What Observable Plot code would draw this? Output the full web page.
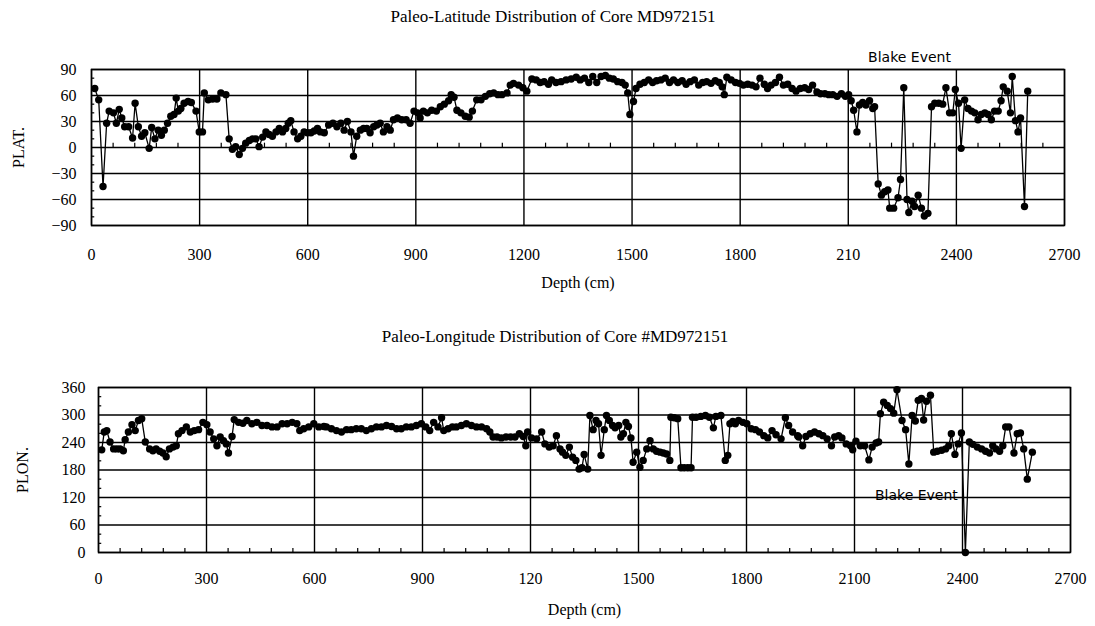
<!DOCTYPE html>
<html><head><meta charset="utf-8">
<script src="https://cdn.jsdelivr.net/npm/d3@7"></script>
<script src="https://cdn.jsdelivr.net/npm/@observablehq/plot@0.6"></script>
<style>
body{margin:0;background:#fff;}
#wrap{position:relative;width:1095px;height:626px;overflow:hidden;font-family:"Liberation Serif",serif;color:#000;background:#fff}
.title{position:absolute;left:253px;width:600px;text-align:center;font-size:17px;line-height:20px;z-index:2}
.chart{position:absolute;left:0;z-index:1}
</style></head><body>
<div id="wrap">
<div id="chart1" class="chart" style="top:0px"></div>
<div id="chart2" class="chart" style="top:300px"></div>
<div class="title" style="top:7px">Paleo-Latitude Distribution of Core MD972151</div>
<div class="title" style="top:327px;left:255px">Paleo-Longitude Distribution of Core #MD972151</div>
</div>
<script>
// ---------- data ----------
const depthTicks = [0, 300, 600, 900, 1200, 1500, 1800, 2100, 2400, 2700];
const latXTickLabels = ["0", "300", "600", "900", "1200", "1500", "1800", "210", "2400", "2700"];
const lonXTickLabels = ["0", "300", "600", "900", "120", "1500", "1800", "2100", "2400", "2700"];
const latYTicks = [-90, -60, -30, 0, 30, 60, 90];
const lonYTicks = [0, 60, 120, 180, 240, 300, 360];
const latMinorY = [-80, -70, -50, -40, -20, -10, 10, 20, 40, 50, 70, 80];
const lonMinorY = [20, 40, 80, 100, 140, 160, 200, 220, 260, 280, 320, 340];
const minorDepth = [60, 120, 180, 240, 360, 420, 480, 540, 660, 720, 780, 840, 960, 1020, 1080, 1140,
  1260, 1320, 1380, 1440, 1560, 1620, 1680, 1740, 1860, 1920, 1980, 2040, 2160, 2220, 2280, 2340,
  2460, 2520, 2580, 2640];

const latDepth = [9, 20, 32, 42, 49, 61, 69, 77, 84, 92, 103, 114, 121, 130, 139, 148, 160, 167, 176, 185,
  194, 202, 211, 220, 229, 235, 241, 248, 257, 268, 277, 290, 299, 308, 313, 324, 336, 348, 359, 373,
  382, 391, 400, 410, 419, 428, 438, 447, 456, 465, 475, 484, 493, 502, 512, 521, 530, 539, 546, 553,
  562, 572, 581, 590, 599, 609, 618, 627,
  635, 646, 658, 670, 681, 692, 701, 710, 720, 727, 736, 746, 755, 764, 773, 783, 792, 801, 810, 820,
  829, 838, 849, 861, 873, 884, 895, 905, 912, 921, 932, 944, 957, 968, 979, 991, 998, 1006, 1014, 1025,
  1037, 1048, 1057, 1069, 1081, 1093, 1105, 1116, 1128, 1139, 1153, 1162, 1171, 1185, 1197, 1208, 1222,
  1234, 1245, 1256, 1268, 1277,
  1289, 1303, 1317, 1331, 1345, 1356, 1368, 1380, 1391, 1402, 1414, 1426, 1437, 1448, 1460, 1472, 1481,
  1488, 1494, 1504, 1511, 1522, 1534, 1546, 1557, 1568, 1580, 1592, 1604, 1615, 1627, 1639, 1650, 1661,
  1673, 1685, 1696, 1707, 1719, 1731, 1742, 1750, 1756, 1763, 1775, 1787, 1798, 1809, 1821, 1833, 1844,
  1855, 1867, 1876, 1886, 1898, 1909, 1920, 1932,
  1944, 1955, 1967, 1979, 1990, 2001, 2013, 2023, 2035, 2046, 2057, 2069, 2081, 2092, 2101, 2108, 2115,
  2124, 2131, 2140, 2149, 2159, 2168, 2173, 2183, 2192, 2201, 2210, 2215, 2226, 2238, 2245, 2254, 2263,
  2268, 2277, 2284, 2294, 2303, 2311, 2321, 2331, 2340, 2351, 2362, 2371, 2381, 2390, 2397, 2406, 2413,
  2423, 2432, 2442, 2451, 2460, 2469, 2479, 2488, 2497, 2506, 2516, 2524, 2530, 2541, 2550, 2555, 2564,
  2571, 2578, 2589, 2598];
const latValue = [68, 55, -45, 28, 42, 40, 28, 44, 34, 24, 24, 11, 51, 24, 13, 17, -1, 23, 10, 20,
  14, 20, 28, 36, 38, 57, 42, 45, 51, 53, 52, 42, 18, 18, 63, 55, 56, 56, 63, 61,
  10, -2, 1, -8, -1, 5, 8, 10, 10, 1, 12, 18, 15, 13, 18, 22, 18, 22, 28, 31,
  18, 10, 13, 18, 17, 17, 19, 22,
  18, 17, 26, 28, 24, 28, 20, 30, 18, -10, 13, 20, 22, 22, 17, 24, 26, 28, 18, 24,
  20, 32, 34, 32, 32, 28, 42, 40, 34, 42, 40, 43, 42, 47, 50, 54, 61, 58, 43, 40,
  36, 35, 42, 55, 55, 59, 62, 63, 61, 61, 63, 72, 74, 72, 69, 65, 79,
  78, 75, 76, 73, 78,
  75, 76, 78, 79, 81, 78, 80, 75, 82, 75, 82, 83, 80, 79, 76, 75, 72,
  63, 38, 53, 68, 73, 75, 78, 75, 77, 78, 80, 75, 78, 75, 77, 73, 76,
  78, 72, 75, 76, 74, 77, 75, 70, 61, 81, 78, 75, 74, 72, 73, 72, 70,
  80, 73, 68, 72, 75, 81, 72, 73,
  68, 65, 68, 69, 67, 72, 64, 62, 62, 61, 61, 59, 62, 59, 61, 54, 43,
  18, 49, 52, 49, 54, 45, 47, -42, -55, -51, -49, -70, -70, -58, -37, 69, -60,
  -75, -62, -68, -55, -70, -79, -76, 47, 51, 51, 50, 69, 40, 40, 67, 51, -1,
  55, 45, 42, 40, 32, 38, 40, 38, 32, 42, 42, 54, 70, 65, 40, 82, 31,
  18, 34, -68, 65];

const lonDepth = [9, 16, 23, 32, 42, 51, 60, 69, 74, 83, 93, 102, 111, 120, 130, 142, 151, 160, 170, 179,
  188, 197, 207, 216, 222, 232, 244, 255, 266, 278, 290, 301, 310, 320, 329, 338, 347, 355, 361, 371,
  377, 389, 401, 412, 426, 440, 454, 468, 482, 496, 510, 524, 538, 551, 559, 570, 584, 598, 612, 626,
  633, 647, 661, 675, 689, 702, 716, 730, 744, 758, 772, 786, 800, 814, 828, 841, 855, 869, 883, 897,
  909, 920, 931, 943, 953, 959, 971, 983, 994, 1008, 1022, 1036, 1050, 1064, 1078, 1087, 1096, 1107,
  1119, 1132, 1145, 1157, 1169, 1180, 1187, 1192, 1203, 1217, 1231, 1240, 1252, 1263, 1272, 1282,
  1289, 1298, 1308, 1317, 1326, 1335, 1343, 1349, 1359, 1365, 1374, 1382, 1389, 1396, 1405, 1411, 1419,
  1428, 1435, 1445, 1451, 1458, 1465, 1472, 1479, 1485, 1495, 1504, 1513, 1523, 1532, 1541, 1550, 1560,
  1569, 1578, 1587, 1590, 1599, 1609, 1618, 1627, 1637, 1646, 1650, 1660, 1673, 1686, 1697, 1708, 1715,
  1729, 1741, 1748, 1754, 1762, 1769, 1778, 1790, 1801, 1813, 1825, 1836, 1848, 1859, 1871, 1882, 1896,
  1908, 1917, 1928, 1942,
  1945, 1956, 1965, 1977, 1989, 2001, 2012, 2024, 2036, 2045, 2056, 2065, 2077, 2089, 2095, 2104, 2116,
  2128, 2140, 2149, 2160, 2167, 2172, 2181, 2191, 2200, 2209, 2218, 2232, 2242, 2251, 2260, 2269, 2277,
  2286, 2292, 2300, 2311, 2320, 2330, 2342, 2353, 2362, 2369, 2379, 2388, 2397, 2408, 2419, 2429, 2441,
  2453, 2464, 2475, 2484, 2493, 2503, 2512, 2520, 2529, 2543, 2552, 2561, 2570, 2580, 2594];
const lonValue = [224, 263, 266, 241, 226, 226, 226, 222, 246, 263, 279, 266, 288, 292, 241, 226, 222, 226, 221, 217,
  209, 226, 230, 233, 259, 266, 274, 263, 266, 268, 284, 279, 263, 248, 233, 252, 244, 237, 217, 253,
  290, 284, 282, 288, 281, 284, 277, 277, 274, 274, 281, 281, 284, 281, 266, 270, 274, 281, 274, 275,
  274, 270, 266, 263, 268, 268, 270, 270, 266, 270, 274, 274, 277, 275, 270, 270, 274, 274, 277, 281,
  274, 266, 284, 274, 294, 266, 270, 274, 274, 277, 281, 277, 274, 274, 270, 263, 252, 252,
  250, 252, 252, 252, 259, 253, 233, 263, 250, 248, 263, 237, 230, 233, 255, 226,
  219, 212, 230, 208, 201, 182, 185, 214, 182, 299, 268, 288, 281, 212, 268, 299, 288,
  277, 272, 277, 252, 259, 284, 275, 250, 197, 219, 186, 201, 226, 244, 226, 221, 219,
  217, 215, 201, 295, 294, 292, 185, 185, 185, 185, 295, 295, 297, 299, 295, 272, 297,
  299, 201, 212, 281, 286, 281, 288, 284, 281, 270, 268, 263, 255, 250, 266, 257, 248,
  294, 277, 263, 255,
  252, 233, 253, 259, 263, 259, 255, 248, 233, 252, 255, 250, 237, 233, 224, 243, 233,
  233, 202, 230, 239, 241, 303, 328, 321, 314, 304, 355, 288, 268, 193, 299, 287, 332,
  336, 289, 330, 343, 219, 221, 223, 226, 233, 259, 214, 237, 261, 0, 241, 236, 230,
  226, 221, 217, 233, 226, 221, 233, 274, 274, 217, 259, 261, 226, 160, 219];

// annotation positions (data coordinates)
const blakeText = ["Blake Event"];
const blakeLatDepth = [2270], blakeLatValue = [104];
const blakeLonDepth = [2272], blakeLonValue = [124];

// ---------- chart builder ----------
const SERIF = "Liberation Serif, Times New Roman, serif";
function makeChart(o) {
  const rows = o.depth.map((d, i) => ({depth: d, value: o.value[i]}));
  const blake = blakeText.map((t, i) => ({text: t, depth: o.blakeDepth[i], value: o.blakeValue[i]}));
  const labelMap = new Map(depthTicks.map((d, i) => [d, o.xLabels[i]]));
  return Plot.plot({
    width: 1095, height: o.height,
    marginTop: o.mt, marginBottom: o.mb, marginLeft: o.ml, marginRight: o.mr,
    style: {background: "transparent", fontFamily: SERIF, fontSize: "15px", color: "black", overflow: "visible"},
    x: {domain: [0, 2700]},
    y: {domain: o.yDomain},
    marks: [
      Plot.gridX(depthTicks, {stroke: "black", strokeOpacity: 1, strokeWidth: 1.4}),
      Plot.gridY(o.yTicks, {stroke: "black", strokeOpacity: 1, strokeWidth: 1.4}),
      Plot.ruleX(minorDepth, {x: d => d, y1: o.minorBase, y2: o.minorBase + o.minorXLen, stroke: "black", strokeWidth: 1.2}),
      Plot.ruleY(o.minorY, {y: d => d, x1: 0, x2: 9, stroke: "black", strokeWidth: 1.2}),
      Plot.frame({stroke: "black", strokeWidth: 1.5}),
      Plot.line(rows, {x: "depth", y: "value", stroke: "black", strokeWidth: 1.3}),
      Plot.dot(rows, {x: "depth", y: "value", r: 3.7, fill: "black", stroke: "none"}),
      Plot.text(blake, {x: "depth", y: "value", text: "text", fontFamily: "DejaVu Sans", fontSize: 14, fill: "black"}),
      Plot.axisX(depthTicks, {tickFormat: d => labelMap.get(d), tickSize: 0, tickPadding: o.xPad,
        label: "Depth (cm)", labelAnchor: "center", labelOffset: o.xLabelOffset, labelArrow: "none",
        fontFamily: SERIF, fontSize: 16}),
      Plot.axisY(o.yTicks, {tickSize: 0, tickPadding: o.yPad, label: o.yLabel, labelAnchor: "center",
        labelOffset: o.yLabelOffset, labelArrow: "none", fontFamily: SERIF, fontSize: 16})
    ]
  });
}

document.getElementById("chart1").append(makeChart({
  depth: latDepth, value: latValue, yDomain: [-90, 90], yTicks: latYTicks, minorY: latMinorY,
  minorBase: 0, minorXLen: 5, xLabels: latXTickLabels, yLabel: "PLAT.",
  blakeDepth: blakeLatDepth, blakeValue: blakeLatValue,
  height: 300, mt: 69, mb: 75, ml: 91, mr: 31, xPad: 23, yPad: 15, yLabelOffset: 79, xLabelOffset: 62
}));
document.getElementById("chart2").append(makeChart({
  depth: lonDepth, value: lonValue, yDomain: [0, 360], yTicks: lonYTicks, minorY: lonMinorY,
  minorBase: 0, minorXLen: 9, xLabels: lonXTickLabels, yLabel: "PLON.",
  blakeDepth: blakeLonDepth, blakeValue: blakeLonValue,
  height: 326, mt: 87, mb: 74, ml: 98, mr: 25, xPad: 20, yPad: 13, yLabelOffset: 82, xLabelOffset: 62
}));
</script>
</body></html>
